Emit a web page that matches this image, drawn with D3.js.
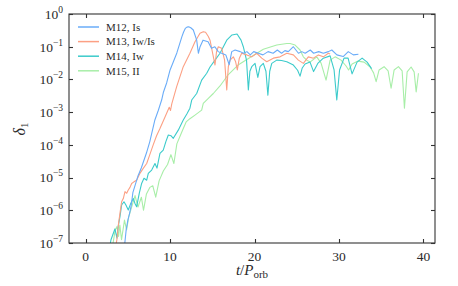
<!DOCTYPE html>
<html>
<head>
<meta charset="utf-8">
<script src="https://cdn.jsdelivr.net/npm/d3@7"></script>
<style>
  body { margin: 0; background: #fff; }
  text { font-family: "Liberation Serif", "DejaVu Serif", serif; fill: #2a2a2a; }
</style>
</head>
<body>
<div id="chart"></div>
<script>
// [t / P_orb, log10(delta_1)]
var m12 = [[4.6,-7.1],[4.8,-6.6],[5.0,-6.3],[5.2,-6.1],[5.4,-5.85],[5.6,-5.45],[5.9,-5.2],[6.2,-4.95],[6.6,-4.7],[7.2,-4.25],[7.6,-3.9],[8.2,-3.24],[8.6,-2.95],[9.0,-2.63],[9.2,-2.4],[9.6,-2.1],[10.0,-1.71],[10.4,-1.45],[10.8,-1.19],[11.4,-0.69],[11.6,-0.55],[11.8,-0.44],[12.0,-0.4],[12.2,-0.39],[12.45,-0.42],[12.75,-0.49],[13.15,-0.8],[13.35,-1.2],[13.55,-1.0],[13.9,-0.8],[14.5,-0.85],[14.9,-1.05],[15.3,-1.0],[15.7,-1.15],[16.1,-1.2],[16.6,-1.25],[17.0,-1.55],[17.3,-1.15],[17.7,-1.1],[18.3,-1.15],[18.7,-1.2],[19.1,-1.15],[19.5,-1.25],[19.9,-1.15],[20.45,-1.2],[21.0,-1.25],[21.6,-1.15],[22.2,-1.2],[22.7,-1.1],[23.2,-1.2],[23.6,-1.12],[24.0,-1.15],[24.6,-1.0],[25.2,-1.2],[25.6,-1.15],[26.0,-1.2],[26.6,-1.1],[27.0,-1.2],[27.6,-1.15],[28.15,-1.2],[28.75,-1.15],[29.15,-1.1],[29.75,-1.25],[30.5,-1.3],[31.1,-1.15],[31.7,-1.25],[32.3,-1.23]];

var m13 = [[3.5,-7.2],[3.7,-6.9],[3.9,-6.4],[4.06,-6.1],[4.26,-5.74],[4.46,-5.64],[4.66,-5.43],[4.86,-5.48],[5.05,-5.38],[5.25,-5.3],[5.45,-5.18],[5.72,-5.13],[6.04,-5.08],[6.43,-4.87],[6.82,-4.72],[7.23,-4.57],[7.6,-4.3],[8.0,-4.0],[8.4,-3.72],[8.8,-3.5],[9.4,-3.15],[9.9,-2.85],[10.05,-2.95],[10.2,-2.75],[10.78,-2.22],[11.56,-1.61],[12.35,-1.2],[12.95,-0.85],[13.54,-0.59],[13.93,-0.54],[14.2,-0.56],[14.53,-0.69],[14.73,-0.8],[15.0,-1.15],[15.32,-1.56],[15.5,-1.15],[15.71,-1.0],[16.11,-1.05],[16.45,-1.4],[16.71,-2.32],[16.9,-1.6],[17.1,-1.41],[17.49,-1.31],[17.75,-1.45],[17.96,-1.71],[18.2,-1.35],[18.48,-1.2],[19.08,-1.25],[19.67,-1.31],[20.26,-1.2],[20.85,-1.35],[21.45,-1.46],[22.23,-1.35],[23.02,-1.31],[23.82,-1.2],[24.6,-1.25],[25.19,-1.41],[25.78,-1.51],[26.37,-1.31],[26.97,-1.35],[27.56,-1.25],[28.15,-1.31],[28.74,-1.2],[28.95,-1.22]];

var m14 = [[2.8,-7.2],[3.0,-6.9],[3.27,-6.71],[3.47,-6.57],[3.71,-6.85],[3.85,-6.5],[4.06,-6.2],[4.26,-5.84],[4.54,-5.74],[4.77,-5.84],[5.05,-5.99],[5.31,-5.81],[5.64,-5.64],[5.84,-5.79],[6.04,-5.89],[6.35,-5.48],[6.63,-5.18],[6.91,-5.02],[7.23,-5.08],[7.42,-4.87],[7.82,-4.77],[8.21,-4.57],[8.45,-4.71],[8.8,-4.26],[9.19,-4.16],[9.5,-3.9],[9.79,-3.7],[10.1,-3.72],[10.38,-3.8],[10.97,-3.55],[11.56,-3.24],[12.0,-3.05],[12.35,-2.88],[12.56,-2.63],[13.15,-2.43],[13.74,-2.02],[14.34,-1.81],[14.73,-1.62],[15.32,-1.41],[15.91,-1.2],[16.71,-0.8],[17.33,-0.64],[17.93,-0.61],[18.4,-0.8],[18.67,-1.0],[19.05,-1.41],[19.27,-2.32],[19.45,-1.75],[19.67,-1.61],[20.06,-1.51],[20.39,-1.94],[20.65,-1.61],[21.04,-1.51],[21.35,-1.75],[21.58,-2.48],[21.8,-1.75],[22.04,-1.51],[22.63,-1.41],[23.2,-1.42],[23.82,-1.46],[24.6,-1.56],[25.1,-1.72],[25.39,-1.9],[25.65,-1.65],[25.98,-1.53],[26.57,-1.47],[26.99,-1.76],[27.52,-1.5],[28.15,-1.35],[28.95,-1.28],[29.42,-1.71],[29.74,-2.63],[30.07,-1.71],[30.6,-1.35],[31.08,-1.35],[31.55,-1.83],[32.14,-1.47],[32.74,-1.35],[33.33,-1.47],[33.86,-1.67]];

var m15 = [[3.1,-7.3],[3.25,-7.0],[3.5,-6.6],[3.7,-6.5],[3.9,-6.8],[4.05,-6.45],[4.25,-6.9],[4.6,-6.3],[4.85,-6.6],[5.1,-6.2],[5.45,-5.9],[5.85,-5.55],[6.2,-5.9],[6.6,-5.6],[6.85,-6.0],[7.2,-5.5],[7.6,-5.3],[7.95,-5.25],[8.3,-5.6],[8.7,-5.1],[9.2,-4.8],[9.7,-4.6],[10.1,-4.3],[10.45,-4.57],[10.8,-3.97],[11.4,-3.6],[11.9,-3.3],[12.35,-3.2],[12.95,-3.09],[13.74,-2.94],[13.93,-2.73],[14.53,-2.58],[15.12,-2.43],[15.91,-2.2],[16.9,-1.85],[18.1,-1.55],[19.47,-1.33],[21.04,-1.08],[22.63,-0.95],[23.82,-0.9],[24.2,-0.9],[24.8,-0.95],[25.39,-1.1],[25.78,-1.31],[26.18,-1.41],[26.57,-1.47],[27.37,-1.31],[27.88,-1.5],[28.47,-2.02],[28.95,-1.41],[29.54,-1.31],[30.25,-1.41],[30.84,-1.59],[31.14,-1.71],[31.55,-1.53],[32.26,-1.44],[32.97,-1.47],[33.69,-1.62],[34.1,-1.8],[34.4,-2.07],[34.75,-1.71],[35.34,-1.61],[35.82,-1.74],[36.17,-2.27],[36.53,-1.71],[37.04,-1.61],[37.48,-1.74],[37.75,-2.88],[38.07,-1.77],[38.54,-1.62],[38.9,-1.77],[39.14,-2.38],[39.41,-1.81]];

var seriesNames = ["M12, Is", "M13, Iw/Is", "M14, Iw", "M15, II"];
var seriesColors = ["#6aacf8", "#fca084", "#3ccbcb", "#a8eea8"];
var xTicks = [0, 10, 20, 30, 40];
var yExps = [0, -1, -2, -3, -4, -5, -6, -7];

var W = 458, H = 286;
var pL = 69, pR = 435, pT = 14, pB = 243;

var svg = d3.select("#chart").append("svg")
    .attr("width", W).attr("height", H);

var x = d3.scaleLinear().domain([-1.97, 41.37]).range([pL, pR]);
var y = d3.scaleLog().domain([1e-7, 1]).range([pB, pT]);

svg.append("clipPath").attr("id", "clip")
  .append("rect").attr("x", pL).attr("y", pT)
  .attr("width", pR - pL).attr("height", pB - pT);

var line = d3.line()
    .x(function(d) { return x(d[0]); })
    .y(function(d) { return y(Math.pow(10, d[1])); });

// draw order: green at the back, blue on top
var all = [m12, m13, m14, m15];
var g = svg.append("g").attr("clip-path", "url(#clip)");
[3, 2, 1, 0].forEach(function(i) {
  g.append("path")
    .datum(all[i])
    .attr("fill", "none")
    .attr("stroke", seriesColors[i])
    .attr("stroke-width", 1.1)
    .attr("stroke-linejoin", "round")
    .attr("d", line);
});

// frame + inward ticks on all four sides
var ax = svg.append("g").attr("stroke", "#333").attr("stroke-width", 1.1);
ax.append("rect").attr("x", pL).attr("y", pT)
  .attr("width", pR - pL).attr("height", pB - pT).attr("fill", "none");

xTicks.forEach(function(t) {
  var px = Math.round(x(t)) + 0.5;
  ax.append("line").attr("x1", px).attr("x2", px).attr("y1", pB).attr("y2", pB - 4);
  ax.append("line").attr("x1", px).attr("x2", px).attr("y1", pT).attr("y2", pT + 4);
  svg.append("text").attr("x", x(t)).attr("y", pB + 18)
    .attr("text-anchor", "middle").attr("font-size", 13.5).text(t);
});

yExps.forEach(function(e) {
  var py = Math.round(y(Math.pow(10, e))) + 0.5;
  ax.append("line").attr("x1", pL).attr("x2", pL + 4).attr("y1", py).attr("y2", py);
  ax.append("line").attr("x1", pR).attr("x2", pR - 4).attr("y1", py).attr("y2", py);
  var lab = svg.append("text").attr("x", 63).attr("y", y(Math.pow(10, e)) + 4.8)
    .attr("text-anchor", "end").attr("font-size", 13.5);
  lab.append("tspan").text("10");
  lab.append("tspan").attr("dy", -6).attr("font-size", 9.5)
    .text(e == 0 ? "0" : "\u2212" + (-e));
});

// axis labels
var xl = svg.append("text").attr("x", 252).attr("y", 275)
  .attr("text-anchor", "middle").attr("font-size", 15);
xl.append("tspan").attr("font-style", "italic").text("t");
xl.append("tspan").text("/");
xl.append("tspan").attr("font-style", "italic").text("P");
xl.append("tspan").attr("dy", 3).attr("font-size", 11).text("orb");

var yl = svg.append("text")
  .attr("transform", "translate(25,129) rotate(-90)")
  .attr("text-anchor", "middle").attr("font-size", 16);
yl.append("tspan").attr("font-style", "italic").text("\u03b4");
yl.append("tspan").attr("dy", 3).attr("font-size", 11).text("1");

// legend
var leg = svg.append("g");
seriesNames.forEach(function(name, i) {
  var ly = 27 + i * 14.6;
  leg.append("line").attr("x1", 78).attr("x2", 99).attr("y1", ly).attr("y2", ly)
    .attr("stroke", seriesColors[i]).attr("stroke-width", 1.5);
  leg.append("text").attr("x", 106).attr("y", ly + 3.8)
    .attr("font-size", 11).text(name);
});
</script>
</body>
</html>
